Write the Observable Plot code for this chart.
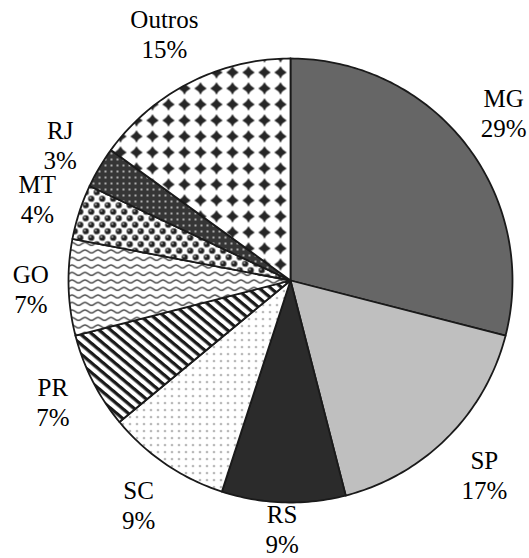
<!DOCTYPE html>
<html>
<head>
<meta charset="utf-8">
<script src="https://cdn.jsdelivr.net/npm/d3@7"></script>
<script src="https://cdn.jsdelivr.net/npm/@observablehq/plot@0.6"></script>
<style>
  html, body { margin: 0; padding: 0; background: #fff; }
  #chart svg { display: block; }
</style>
</head>
<body>
<div id="chart"></div>
<script>
// ---- data (clockwise from 12 o'clock) ----
const states = ["MG", "SP", "RS", "SC", "PR", "GO", "MT", "RJ", "Outros"];
const shares = [29, 17, 9, 9, 7, 7, 4, 3, 15];

// ---- layout / style ----
const W = 529, H = 558;
const CX = 290, CY = 280, R = 222;
const FONT = "'Liberation Serif', 'Times New Roman', serif";
const FS = 25;
const fillOf = {
  MG: "#666666",
  SP: "#bfbfbf",
  RS: "#2b2b2b",
  SC: "url(#p-sc)",
  PR: "url(#p-pr)",
  GO: "url(#p-go)",
  MT: "url(#p-mt)",
  RJ: "url(#p-rj)",
  Outros: "url(#p-outros)"
};

// ---- slice geometry from the data ----
const total = d3.sum(shares);
let acc = 0;
const slices = states.map((s, i) => {
  const a0 = acc / total * 2 * Math.PI;
  acc += shares[i];
  const a1 = acc / total * 2 * Math.PI;
  return {state: s, value: shares[i], a0, a1, mid: (a0 + a1) / 2};
});

function wedgePoints(sl) {
  const pts = [{x: 0, y: 0}];
  const n = Math.max(2, Math.ceil((sl.a1 - sl.a0) / (Math.PI / 180)));
  for (let k = 0; k <= n; k++) {
    const a = sl.a0 + (sl.a1 - sl.a0) * k / n;
    pts.push({x: Math.sin(a), y: Math.cos(a)});
  }
  return pts;
}

// ---- label placement (outside end) ----
const ctx = document.createElement("canvas").getContext("2d");
ctx.font = `${FS}px ${FONT}`;
const labels = slices.map(sl => {
  const pct = `${sl.value}%`;
  const w = Math.max(ctx.measureText(sl.state).width, ctx.measureText(pct).width);
  const s = Math.sin(sl.mid), c = Math.cos(sl.mid);
  const d = R + 19 + Math.abs(s) * w / 2 + Math.abs(c) * 24;
  let px = CX + d * s, py = CY - d * c;
  px = Math.max(w / 2 + 3, Math.min(W - w / 2 - 3, px));
  py = Math.max(28, Math.min(H - 30, py));
  return {x: (px - CX) / R, y: (CY - py) / R, text: `${sl.state}\n${pct}`};
});

const marks = [];
for (const sl of slices) {
  marks.push(Plot.line(wedgePoints(sl), {
    x: "x", y: "y",
    fill: fillOf[sl.state],
    stroke: "#1a1a1a",
    strokeWidth: 1.8,
    strokeLinejoin: "round",
    curve: "linear-closed"
  }));
}
marks.push(Plot.text(labels, {
  x: "x", y: "y", text: "text",
  fontSize: FS, fontFamily: FONT, lineHeight: 1.2,
  fill: "#000", textAnchor: "middle", lineAnchor: "middle"
}));

const svg = Plot.plot({
  width: W, height: H,
  margin: 0,
  x: {domain: [-CX / R, (W - CX) / R], axis: null},
  y: {domain: [-(H - CY) / R, CY / R], axis: null},
  style: {background: "#fff", fontFamily: FONT},
  marks
});

// ---- fill patterns ----
const defs = d3.select(svg).insert("defs", ":first-child");
function pat(id, w, h, transform) {
  const p = defs.append("pattern").attr("id", id)
    .attr("patternUnits", "userSpaceOnUse")
    .attr("width", w).attr("height", h);
  if (transform) p.attr("patternTransform", transform);
  return p;
}
// SC: sparse dots
let p = pat("p-sc", 7, 7);
p.append("rect").attr("width", 7).attr("height", 7).attr("fill", "#fff");
p.append("circle").attr("cx", 3.5).attr("cy", 3.5).attr("r", 0.85).attr("fill", "#4a4a4a");
// PR: wide downward diagonal stripes
p = pat("p-pr", 10, 7.5, "rotate(40)");
p.append("rect").attr("width", 10).attr("height", 7.5).attr("fill", "#fff");
p.append("rect").attr("width", 10).attr("height", 3.3).attr("fill", "#1a1a1a");
// GO: waves
p = pat("p-go", 13, 7.5);
p.append("rect").attr("width", 13).attr("height", 7.5).attr("fill", "#fff");
p.append("path").attr("d", "M0,5 C2.2,5 4.3,1.8 6.5,1.8 C8.7,1.8 10.8,5 13,5")
  .attr("fill", "none").attr("stroke", "#444").attr("stroke-width", 1.4);
// MT: spheres
p = pat("p-mt", 11, 13);
p.append("rect").attr("width", 11).attr("height", 13).attr("fill", "#fff");
for (const [bx, by] of [[2.75, 3.25], [8.25, 9.75]]) {
  p.append("circle").attr("cx", bx).attr("cy", by).attr("r", 3.1).attr("fill", "#222");
  p.append("circle").attr("cx", bx - 0.9).attr("cy", by - 0.9).attr("r", 0.9).attr("fill", "#ddd");
}
for (const [bx, by] of [[-2.75, 9.75], [13.75, 3.25], [8.25, -3.25], [2.75, 16.25]]) {
  p.append("circle").attr("cx", bx).attr("cy", by).attr("r", 3.1).attr("fill", "#222");
}
// RJ: dark with white dots
p = pat("p-rj", 6, 6);
p.append("rect").attr("width", 6).attr("height", 6).attr("fill", "#363636");
p.append("rect").attr("x", 2.2).attr("y", 2.2).attr("width", 1.6).attr("height", 1.6).attr("fill", "#f0f0f0");
// Outros: solid diamonds
p = pat("p-outros", 16, 16);
p.append("rect").attr("width", 16).attr("height", 16).attr("fill", "#fff");
p.append("path").attr("d", "M8,1.8 Q10,6 14.2,8 Q10,10 8,14.2 Q6,10 1.8,8 Q6,6 8,1.8Z").attr("fill", "#262626");

document.getElementById("chart").appendChild(svg);
</script>
</body>
</html>
